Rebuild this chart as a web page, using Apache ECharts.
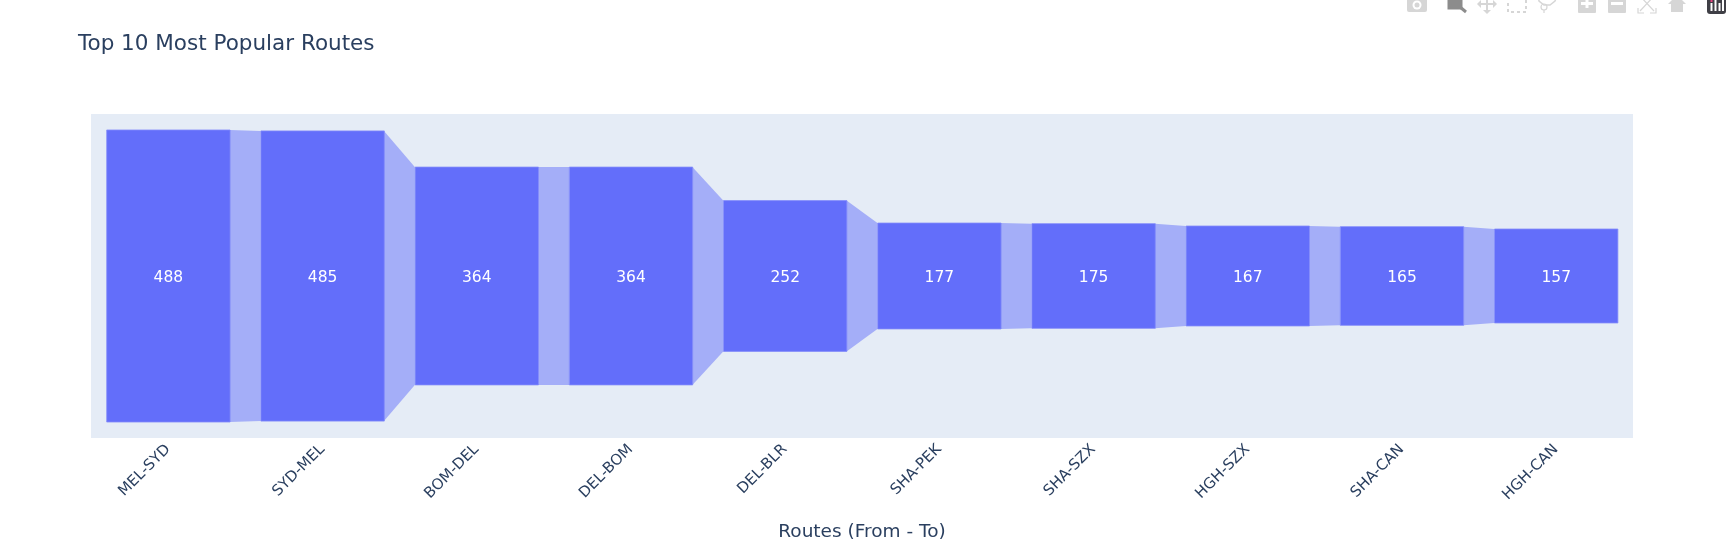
<!DOCTYPE html>
<html>
<head>
<meta charset="utf-8">
<style>html,body{margin:0;padding:0;background:#fff}#c{width:1727px;height:542px}</style>
<script src="https://cdn.jsdelivr.net/npm/echarts@6/dist/echarts.min.js"></script>
</head>
<body>
<div id="c"></div>
<script>
const routes = ['MEL-SYD','SYD-MEL','BOM-DEL','DEL-BOM','DEL-BLR','SHA-PEK','SHA-SZX','HGH-SZX','SHA-CAN','HGH-CAN'];
const counts = [488,485,364,364,252,177,175,167,165,157];
const barFraction = 0.8;

const chart = echarts.init(document.getElementById('c'), null, {renderer:'canvas'});

function renderLink(params, api){
  const i = api.value(0);
  if (i >= counts.length - 1) return null;
  const v0 = api.value(1), v1 = counts[i+1];
  const band = api.size([1,0])[0];
  const half = band*barFraction/2;
  const a = api.coord([i, v0/2]), b = api.coord([i, -v0/2]);
  const c = api.coord([i+1, v1/2]), d = api.coord([i+1, -v1/2]);
  return {type:'polygon', shape:{points:[[a[0]+half,a[1]],[c[0]-half,c[1]],[d[0]-half,d[1]],[b[0]+half,b[1]]]},
    style:{fill:'#a4aef8'}};
}
function renderBar(params, api){
  const i = api.value(0), v = api.value(1);
  const band = api.size([1,0])[0];
  const w = band*barFraction;
  const top = api.coord([i, v/2]), bot = api.coord([i, -v/2]);
  return {type:'group', children:[
    {type:'rect', shape:{x:top[0]-w/2+0.3, y:top[1], width:w, height:bot[1]-top[1]},
      style:{fill:'#636efa', stroke:'#838bfa', lineWidth:0.8}},
    {type:'text', x:top[0]+0.3, y:(top[1]+bot[1])/2+1.5, style:{text:String(v), fill:'#ffffff',
      font:'15.5px "DejaVu Sans"', textAlign:'center', textVerticalAlign:'middle'}}
  ]};
}
const seriesData = counts.map((v,i)=>[i,v]);

// Toolbar icons
const g1='#d6d6d6', g2='#8c8c8c';
const icons = [
  {type:'rect',shape:{x:1407,y:-5,width:20,height:17,r:2},style:{fill:g1}},
  {type:'circle',shape:{cx:1417,cy:5,r:4.5},style:{fill:'#fff'}},
  {type:'circle',shape:{cx:1417,cy:5,r:2.5},style:{fill:g1}},
  {type:'rect',shape:{x:1449,y:-4,width:12,height:12},style:{fill:g2,stroke:g2,lineWidth:3}},
  {type:'line',shape:{x1:1460,y1:7,x2:1466,y2:12},style:{stroke:g2,lineWidth:3}},
  {type:'line',shape:{x1:1478,y1:4,x2:1496,y2:4},style:{stroke:g1,lineWidth:2}},
  {type:'line',shape:{x1:1487,y1:-4,x2:1487,y2:12},style:{stroke:g1,lineWidth:2}},
  {type:'polygon',shape:{points:[[1477,4],[1481,0],[1481,8]]},style:{fill:g1}},
  {type:'polygon',shape:{points:[[1497,4],[1493,0],[1493,8]]},style:{fill:g1}},
  {type:'polygon',shape:{points:[[1483,10],[1491,10],[1487,14]]},style:{fill:g1}},
  {type:'rect',shape:{x:1508,y:-6,width:18,height:18},style:{fill:'none',stroke:g1,lineWidth:2,lineDash:[3,3]}},
  {type:'polyline',shape:{points:[[1538,-4],[1539,1],[1544,5],[1550,5],[1555,1],[1557,-4]]},style:{fill:'none',stroke:g1,lineWidth:1.5}},
  {type:'circle',shape:{cx:1544,cy:7,r:3},style:{fill:'none',stroke:g1,lineWidth:1.2}},
  {type:'line',shape:{x1:1544,y1:10,x2:1544,y2:13},style:{stroke:g1,lineWidth:1.2}},
  {type:'rect',shape:{x:1578,y:-6,width:18,height:19,r:1},style:{fill:g1}},
  {type:'rect',shape:{x:1585.5,y:-6,width:3,height:14},style:{fill:'#fff'}},
  {type:'rect',shape:{x:1581,y:2,width:12,height:3},style:{fill:'#fff'}},
  {type:'rect',shape:{x:1608,y:-6,width:18,height:19,r:1},style:{fill:g1}},
  {type:'rect',shape:{x:1611,y:2,width:12,height:3},style:{fill:'#fff'}},
  {type:'polyline',shape:{points:[[1638,8],[1638,13],[1644,13]]},style:{fill:'none',stroke:g1,lineWidth:1.2}},
  {type:'polyline',shape:{points:[[1656,8],[1656,13],[1650,13]]},style:{fill:'none',stroke:g1,lineWidth:1.2}},
  {type:'line',shape:{x1:1640,y1:-4,x2:1654,y2:11},style:{stroke:g1,lineWidth:1.2}},
  {type:'line',shape:{x1:1654,y1:-4,x2:1640,y2:11},style:{stroke:g1,lineWidth:1.2}},
  {type:'polygon',shape:{points:[[1668,4],[1677,-5],[1686,4]]},style:{fill:g1}},
  {type:'rect',shape:{x:1671,y:4,width:12,height:8},style:{fill:g1}},
  {type:'rect',shape:{x:1707,y:-6,width:19,height:20,r:3},style:{fill:'#3f3f46'}},
  {type:'rect',shape:{x:1710.5,y:3,width:2,height:8},style:{fill:'#fff'}},
  {type:'rect',shape:{x:1714.5,y:0,width:2,height:11},style:{fill:'#fff'}},
  {type:'rect',shape:{x:1718.5,y:3,width:2,height:8},style:{fill:'#fff'}},
  {type:'rect',shape:{x:1722,y:0,width:2,height:11},style:{fill:'#fff'}},
  {type:'rect',shape:{x:1710.5,y:0,width:2,height:2},style:{fill:'#e8417f'}}
];

chart.setOption({
  animation:false,
  backgroundColor:'#ffffff',
  title:{text:'Top 10 Most Popular Routes', left:78, top:33.5, padding:0,
    textStyle:{fontFamily:'"DejaVu Sans"', fontSize:21.5, fontWeight:'normal', color:'#2a3f5f'}},
  grid:{left:91, right:94, top:114, height:324, containLabel:false, outerBoundsMode:'none', backgroundColor:'#e5ecf6', show:true, borderWidth:0},
  xAxis:{type:'category', data:routes, boundaryGap:true,
    axisLine:{show:false}, axisTick:{show:false}, splitLine:{show:false},
    axisLabel:{rotate:45, interval:0, fontFamily:'"DejaVu Sans"', fontSize:15, color:'#2a3f5f', margin:9},
    name:'Routes (From - To)', nameLocation:'middle', nameGap:85,
    nameTextStyle:{fontFamily:'"DejaVu Sans"', fontSize:18.5, color:'#2a3f5f'}},
  yAxis:{type:'value', min:-270.7, max:270.7, show:false, splitLine:{show:false}},
  series:[
    {type:'custom', name:'links', renderItem:renderLink, data:seriesData, encode:{x:0,y:1}, clip:false, silent:true, z:2},
    {type:'custom', name:'Routes', renderItem:renderBar, data:seriesData, encode:{x:0,y:1}, clip:false, z:3}
  ],
  graphic:{elements:icons.map(e=>Object.assign({silent:true,z:100},e))}
});
</script>
</body>
</html>
